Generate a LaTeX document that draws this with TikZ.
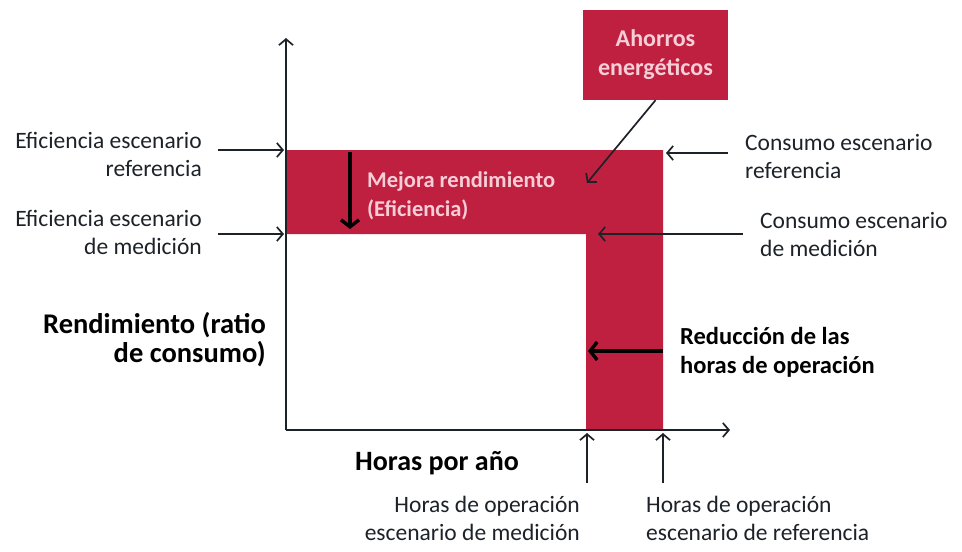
\documentclass[tikz,border=0pt]{standalone}
\usepackage{fontspec}
\setmainfont{Carlito}
\usepackage{xcolor}
\usepackage{tikz}
\usetikzlibrary{arrows.meta, positioning, calc}
\definecolor{ahred}{RGB}{192,32,64}
\definecolor{ahink}{RGB}{28,34,40}
\definecolor{ahpink}{RGB}{246,206,216}

\begin{document}
\begin{tikzpicture}[x=1pt,y=-1pt,
  lbl/.style={font=\fontsize{23.5}{28}\selectfont, text=ahink, inner sep=0pt},
  boldlbl/.style={font=\fontsize{24.5}{29}\selectfont\bfseries, text=black, inner sep=0pt},
  thinarrow/.style={draw=ahink, line width=1.7pt, -{Straight Barb[length=6pt,width=14pt]}},
  thickarrow/.style={draw=black, line width=3.4pt, -{Straight Barb[length=7pt,width=18pt]}}]
\useasboundingbox (0,0) rectangle (962,552);

% Savings area
\fill[ahred] (286,150) -- (663,150) -- (663,430) -- (586,430) -- (586,234) -- (286,234) -- cycle;

% Axes
\coordinate (O) at (286,430);
\coordinate (ytop) at (286,38);
\coordinate (xend) at (730,430);
\draw[thinarrow] (O) -- (ytop);
\draw[thinarrow] (O) -- (xend);

% Reference points
\coordinate (effref) at (286,150);
\coordinate (effmed) at (286,234);
\coordinate (conref) at (663,153);
\coordinate (conmed) at (598,234);
\coordinate (hmed) at (587,433);
\coordinate (href) at (663,433);
\coordinate (mejtop) at (350,152);
\coordinate (mejbot) at (350,229);
\coordinate (redtip) at (588,351);
\coordinate (ahtip) at (587,183);

% Top box
\node[fill=ahred, minimum width=145pt, minimum height=90pt, align=center,
      font=\fontsize{24}{29}\selectfont\bfseries, text=ahpink] (ahorro) at (655.5,55) {Ahorros\\energéticos};
\draw[thinarrow] (ahorro.south) -- (ahtip);

% Left labels
\node[lbl, anchor=east, align=right] (effreftxt) at (202,154) {Eficiencia escenario\\referencia};
\node[lbl, anchor=east, align=right] (effmedtxt) at (202,232) {Eficiencia escenario\\de medición};
\draw[thinarrow] ([xshift=16pt]effref -| effreftxt.east) -- ([xshift=-2pt]effref);
\draw[thinarrow] ([xshift=16pt]effmed -| effmedtxt.east) -- ([xshift=-2pt]effmed);
\node[font=\fontsize{28.5}{29}\selectfont\bfseries, inner sep=0pt, anchor=east, align=right] (rendtxt) at (266,340) {Rendimiento (ratio\\de consumo)};

% Efficiency gain
\draw[thickarrow] (mejtop) -- (mejbot);
\node[lbl, font=\fontsize{22.5}{29}\selectfont\bfseries, text=ahpink, anchor=west, align=left] (mejtxt) at (367,196) {Mejora rendimiento\\(Eficiencia)};

% Right labels
\node[lbl, anchor=west, align=left] (conreftxt) at (745,156) {Consumo escenario\\referencia};
\node[lbl, anchor=west, align=left] (conmedtxt) at (760,234) {Consumo escenario\\de medición};
\draw[thinarrow] ([xshift=-17pt]conref -| conreftxt.west) -- ([xshift=3pt]conref);
\draw[thinarrow] ([xshift=-17pt]conmed -| conmedtxt.west) -- (conmed);
\node[boldlbl, anchor=west, align=left] (redtxt) at (680,352) {Reducción de las\\horas de operación};
\draw[thickarrow] (redtip -| href) -- (redtip);

% Bottom labels
\node[font=\fontsize{28}{28}\selectfont\bfseries, inner sep=0pt] (xtxt) at (437,463) {Horas por año};
\node[lbl, anchor=north east, align=right] (hmedtxt) at (580,496) {Horas de operación\\escenario de medición};
\node[lbl, anchor=north west, align=left] (hreftxt) at (646,496) {Horas de operación\\escenario de referencia};
\draw[thinarrow] ([yshift=-50pt]hmed) -- (hmed);
\draw[thinarrow] ([yshift=-50pt]href) -- (href);
\end{tikzpicture}
\end{document}
